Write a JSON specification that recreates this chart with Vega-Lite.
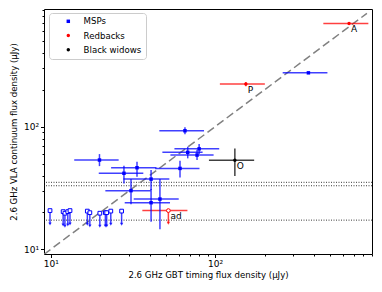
{
  "$schema": "https://vega.github.io/schema/vega-lite/v6.json",
  "width": 328,
  "height": 245,
  "autosize": {"type": "none"},
  "padding": {"left": 44, "top": 9, "right": 10, "bottom": 38},
  "config": {
    "view": {"stroke": "black", "strokeWidth": 1},
    "font": "DejaVu Sans",
    "axis": {"grid": false, "domain": false, "tickColor": "black", "labelColor": "black", "titleColor": "black", "labelFont": "DejaVu Sans", "titleFont": "DejaVu Sans", "labelFontSize": 9, "titleFontSize": 8.6, "titleFontWeight": "normal", "labelOverlap": false, "labelFlush": false}
  },
  "datasets": {
    "pts": [
      {"type": "MSPs", "x": 370, "xlo": 258, "xhi": 483, "y": 275, "ylo": null, "yhi": null, "lim": false, "label": ""},
      {"type": "MSPs", "x": 65.6, "xlo": 45.8, "xhi": 85.7, "y": 92.7, "ylo": 87, "yhi": 98.8, "lim": false, "label": ""},
      {"type": "MSPs", "x": 68.2, "xlo": 47.8, "xhi": 84, "y": 61.8, "ylo": 55.2, "yhi": 68.7, "lim": false, "label": ""},
      {"type": "MSPs", "x": 80, "xlo": 56.6, "xhi": 106, "y": 66, "ylo": 59.8, "yhi": 72.3, "lim": false, "label": ""},
      {"type": "MSPs", "x": 77.7, "xlo": 53.5, "xhi": 98, "y": 58.7, "ylo": 53.5, "yhi": 64.9, "lim": false, "label": ""},
      {"type": "MSPs", "x": 19.8, "xlo": 13.9, "xhi": 25.9, "y": 53.5, "ylo": 47.7, "yhi": 59.8, "lim": false, "label": ""},
      {"type": "MSPs", "x": 33.5, "xlo": 23.3, "xhi": 44, "y": 46.3, "ylo": 39.1, "yhi": 51.9, "lim": false, "label": ""},
      {"type": "MSPs", "x": 61.2, "xlo": 43.2, "xhi": 80.4, "y": 45.7, "ylo": 38.6, "yhi": 52.8, "lim": false, "label": ""},
      {"type": "MSPs", "x": 27.9, "xlo": 19.6, "xhi": 36.6, "y": 41.7, "ylo": 34.5, "yhi": 48.1, "lim": false, "label": ""},
      {"type": "MSPs", "x": 40.8, "xlo": 27.7, "xhi": 52.7, "y": 37.4, "ylo": 30.5, "yhi": 44.4, "lim": false, "label": ""},
      {"type": "MSPs", "x": 30.8, "xlo": 21.5, "xhi": 40.6, "y": 30.1, "ylo": 23.3, "yhi": 37.4, "lim": false, "label": ""},
      {"type": "MSPs", "x": 46.2, "xlo": 32, "xhi": 60.1, "y": 25.7, "ylo": 14.6, "yhi": 37.4, "lim": false, "label": ""},
      {"type": "MSPs", "x": 40.8, "xlo": 28.2, "xhi": 53.2, "y": 24, "ylo": 16.8, "yhi": 31, "lim": false, "label": ""},
      {"type": "Redbacks", "x": 654, "xlo": 456, "xhi": 857, "y": 696, "ylo": null, "yhi": null, "lim": false, "label": "A"},
      {"type": "Redbacks", "x": 154, "xlo": 107, "xhi": 201, "y": 223, "ylo": 214, "yhi": 232, "lim": false, "label": "P"},
      {"type": "Black widows", "x": 132, "xlo": 91.8, "xhi": 173, "y": 53.2, "ylo": 39.6, "yhi": 66.5, "lim": false, "label": "O"},
      {"type": "Redbacks", "x": 52, "xlo": 36.1, "xhi": 67.9, "y": 20.7, "ylo": 16.3, "yhi": 20.7, "lim": true, "label": "ad"},
      {"type": "MSPs", "x": 9.9, "xlo": null, "xhi": null, "y": 20.7, "ylo": 16.1, "yhi": 20.7, "lim": true, "label": ""},
      {"type": "MSPs", "x": 11.9, "xlo": null, "xhi": null, "y": 20.3, "ylo": 15.8, "yhi": 20.3, "lim": true, "label": ""},
      {"type": "MSPs", "x": 12.2, "xlo": null, "xhi": null, "y": 19.7, "ylo": 15.4, "yhi": 19.7, "lim": true, "label": ""},
      {"type": "MSPs", "x": 12.7, "xlo": null, "xhi": null, "y": 20.3, "ylo": 15.8, "yhi": 20.3, "lim": true, "label": ""},
      {"type": "MSPs", "x": 13.1, "xlo": null, "xhi": null, "y": 20.7, "ylo": 16.1, "yhi": 20.7, "lim": true, "label": ""},
      {"type": "MSPs", "x": 16.7, "xlo": null, "xhi": null, "y": 20.5, "ylo": 16.0, "yhi": 20.5, "lim": true, "label": ""},
      {"type": "MSPs", "x": 17.3, "xlo": null, "xhi": null, "y": 19.9, "ylo": 15.5, "yhi": 19.9, "lim": true, "label": ""},
      {"type": "MSPs", "x": 19.9, "xlo": null, "xhi": null, "y": 19.7, "ylo": 15.4, "yhi": 19.7, "lim": true, "label": ""},
      {"type": "MSPs", "x": 21.5, "xlo": null, "xhi": null, "y": 19.9, "ylo": 15.5, "yhi": 19.9, "lim": true, "label": ""},
      {"type": "MSPs", "x": 21.9, "xlo": null, "xhi": null, "y": 19.9, "ylo": 15.5, "yhi": 19.9, "lim": true, "label": ""},
      {"type": "MSPs", "x": 23.2, "xlo": null, "xhi": null, "y": 20.5, "ylo": 16.0, "yhi": 20.5, "lim": true, "label": ""},
      {"type": "MSPs", "x": 27.0, "xlo": null, "xhi": null, "y": 20.5, "ylo": 16.0, "yhi": 20.5, "lim": true, "label": ""}
    ],
    "hlines": [{"v": 33.0}, {"v": 35.2}, {"v": 17.3}],
    "diag": [{"v": 9.1}, {"v": 840}]
  },
  "layer": [
    {
      "data": {"name": "hlines"},
      "mark": {"type": "rule", "color": "#222222", "strokeWidth": 0.9, "strokeDash": [1, 1.5]},
      "encoding": {
        "y": {"field": "v", "type": "quantitative", "scale": {"type": "log", "domain": [9.16, 912], "nice": false},
          "axis": {"title": "2.6 GHz VLA continuum flux density (μJy)", "values": [10, 20, 30, 40, 50, 60, 70, 80, 90, 100, 200, 300, 400, 500, 600, 700, 800, 900],
            "labelExpr": "datum.value == 10 ? '10¹' : (datum.value == 100 ? '10²' : '')",
            "tickSize": {"condition": {"test": "datum.value == 10 || datum.value == 100", "value": 3.5}, "value": 2},
            "labelPadding": 2, "titlePadding": 5}}
      }
    },
    {
      "data": {"name": "diag"},
      "mark": {"type": "line", "color": "#808080", "strokeWidth": 1.5, "strokeDash": [8, 4], "clip": true},
      "encoding": {
        "x": {"field": "v", "type": "quantitative", "scale": {"type": "log", "domain": [9.1, 902], "nice": false},
          "axis": {"title": "2.6 GHz GBT timing flux density (μJy)", "values": [10, 20, 30, 40, 50, 60, 70, 80, 90, 100, 200, 300, 400, 500, 600, 700, 800, 900],
            "labelExpr": "datum.value == 10 ? '10¹' : (datum.value == 100 ? '10²' : '')",
            "tickSize": {"condition": {"test": "datum.value == 10 || datum.value == 100", "value": 3.5}, "value": 2},
            "labelPadding": 2, "titlePadding": 2}},
        "y": {"field": "v", "type": "quantitative"}
      }
    },
    {
      "data": {"name": "pts"},
      "transform": [{"filter": "isValid(datum.xlo)"}],
      "mark": {"type": "rule", "strokeWidth": 1.5, "opacity": 0.75},
      "encoding": {
        "x": {"field": "xlo", "type": "quantitative"},
        "x2": {"field": "xhi"},
        "y": {"field": "y", "type": "quantitative"},
        "color": {"condition": [{"test": "datum.type === 'MSPs'", "value": "#0000ff"}, {"test": "datum.type === 'Redbacks'", "value": "#ff0000"}], "value": "#000000"}
      }
    },
    {
      "data": {"name": "pts"},
      "transform": [{"filter": "isValid(datum.ylo)"}],
      "mark": {"type": "rule", "strokeWidth": 1.5, "opacity": 0.75},
      "encoding": {
        "x": {"field": "x", "type": "quantitative"},
        "y": {"field": "ylo", "type": "quantitative"},
        "y2": {"field": "yhi"},
        "color": {"condition": [{"test": "datum.type === 'MSPs'", "value": "#0000ff"}, {"test": "datum.type === 'Redbacks'", "value": "#ff0000"}], "value": "#000000"}
      }
    },
    {
      "data": {"name": "pts"},
      "transform": [{"filter": "datum.lim"}],
      "mark": {"type": "point", "shape": "triangle-down", "filled": true, "size": 12, "strokeWidth": 0},
      "encoding": {
        "x": {"field": "x", "type": "quantitative"},
        "y": {"field": "ylo", "type": "quantitative"},
        "color": {"condition": [{"test": "datum.type === 'MSPs'", "value": "#0000ff"}, {"test": "datum.type === 'Redbacks'", "value": "#ff0000"}], "value": "#000000"}
      }
    },
    {
      "data": {"name": "pts"},
      "transform": [{"filter": "datum.lim"}],
      "mark": {"type": "point", "filled": false, "fill": "white", "fillOpacity": 1, "size": 14, "strokeWidth": 1},
      "encoding": {
        "x": {"field": "x", "type": "quantitative"},
        "y": {"field": "y", "type": "quantitative"},
        "shape": {"condition": {"test": "datum.type === 'MSPs'", "value": "square"}, "value": "circle"},
        "stroke": {"condition": {"test": "datum.type === 'MSPs'", "value": "#0000ff"}, "value": "#ff0000"}
      }
    },
    {
      "data": {"name": "pts"},
      "transform": [{"filter": "!datum.lim"}],
      "mark": {"type": "point", "filled": true, "size": 12, "opacity": 1, "strokeWidth": 0},
      "encoding": {
        "x": {"field": "x", "type": "quantitative"},
        "y": {"field": "y", "type": "quantitative"},
        "color": {"field": "type", "type": "nominal",
          "scale": {"domain": ["MSPs", "Redbacks", "Black widows"], "range": ["#0000ff", "#ff0000", "#000000"]},
          "legend": {"title": null, "orient": "none", "legendX": 5, "legendY": 4, "padding": 4, "labelFontSize": 8.6, "labelFont": "DejaVu Sans", "labelColor": "black", "symbolSize": 12, "symbolOffset": 11, "labelOffset": 11, "rowPadding": 5.2, "fillColor": "rgba(255,255,255,0.8)", "strokeColor": "#cccccc", "cornerRadius": 3}},
        "shape": {"field": "type", "type": "nominal",
          "scale": {"domain": ["MSPs", "Redbacks", "Black widows"], "range": ["square", "circle", "circle"]},
          "legend": {"title": null, "orient": "none", "legendX": 5, "legendY": 4, "padding": 4, "labelFontSize": 8.6, "labelFont": "DejaVu Sans", "labelColor": "black", "symbolSize": 12, "symbolOffset": 11, "labelOffset": 11, "rowPadding": 5.2, "fillColor": "rgba(255,255,255,0.8)", "strokeColor": "#cccccc", "cornerRadius": 3}}
      }
    },
    {
      "data": {"name": "pts"},
      "transform": [{"filter": "datum.label != ''"}],
      "mark": {"type": "text", "align": "left", "baseline": "middle", "dx": 2, "dy": 5.5, "fontSize": 9, "font": "DejaVu Sans", "color": "black"},
      "encoding": {
        "x": {"field": "x", "type": "quantitative"},
        "y": {"field": "y", "type": "quantitative"},
        "text": {"field": "label"}
      }
    }
  ]
}
